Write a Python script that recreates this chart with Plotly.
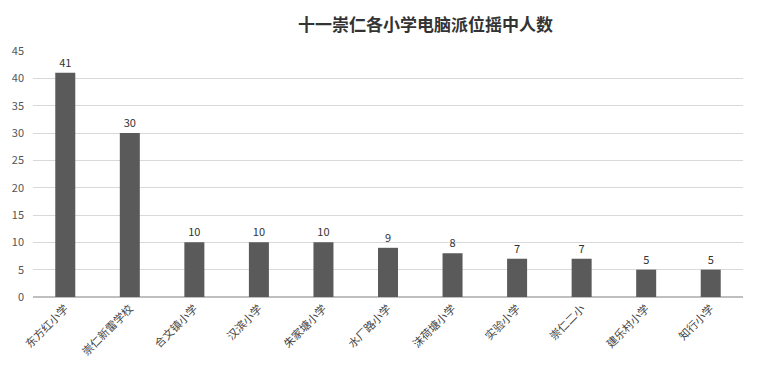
import plotly.graph_objects as go

schools = ["东方红小学", "崇仁新雷学校", "合文镇小学", "汉滨小学", "朱家塘小学", "水厂路小学",
           "沫荷塘小学", "实验小学", "崇仁二小", "建乐村小学", "知行小学"]
counts = [41, 30, 10, 10, 10, 9, 8, 7, 7, 5, 5]
yticks = [0, 5, 10, 15, 20, 25, 30, 35, 40, 45]

fig = go.Figure(go.Bar(
    x=schools, y=counts, marker_color="#5a5a5a", marker_line_width=0,
    text=counts, textposition="outside", cliponaxis=False,
    textfont=dict(size=11, color="#333333", family="Noto Sans CJK SC"),
))
fig.update_layout(
    width=760, height=379, margin=dict(l=31, r=17, t=51, b=82),
    paper_bgcolor="white", plot_bgcolor="white", bargap=0.69,
    title=dict(text="<b>十一崇仁各小学电脑派位摇中人数</b>", x=0.56, xanchor="center", y=0.935,
               yanchor="middle", font=dict(size=17, color="#333333", family="Noto Sans CJK SC")),
    font=dict(family="Noto Sans CJK SC", color="#555555"),
    showlegend=False,
)
fig.update_yaxes(range=[0, 45], tickvals=yticks, showgrid=True, gridcolor="#d9d9d9",
                 zeroline=True, zerolinecolor="#bfbfbf", tickfont=dict(size=11, color="#555555"),
                 ticks="", ticklabelstandoff=8)
fig.update_xaxes(tickangle=-45, tickfont=dict(size=11, color="#444444"), showline=True,
                 linecolor="#bfbfbf")
fig.write_html("out.html")
